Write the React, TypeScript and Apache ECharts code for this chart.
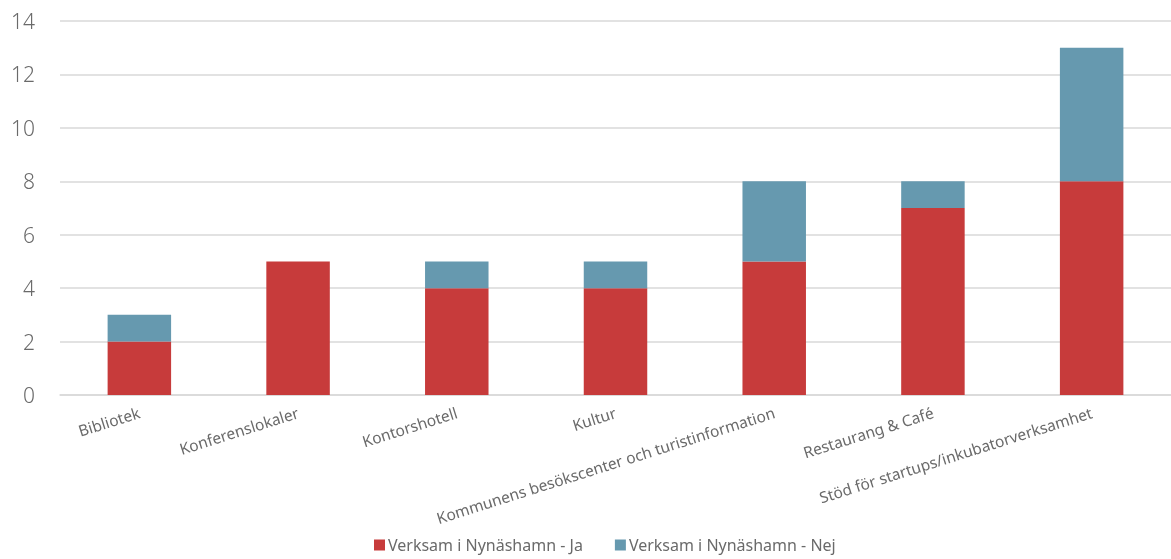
import React, { useEffect, useRef } from "react";
import * as echarts from "echarts";

const categories = [
  "Bibliotek",
  "Konferenslokaler",
  "Kontorshotell",
  "Kultur",
  "Kommunens besökscenter och turistinformation",
  "Restaurang & Café",
  "Stöd för startups/inkubatorverksamhet",
];
const seriesJa = [2, 5, 4, 4, 5, 7, 8];
const seriesNej = [1, 0, 1, 1, 3, 1, 5];
const seriesNames = ["Verksam i Nynäshamn - Ja", "Verksam i Nynäshamn - Nej"];

export default function App() {
  const ref = useRef<HTMLDivElement>(null);
  useEffect(() => {
    if (!ref.current) return;
    const chart = echarts.init(ref.current, undefined, { renderer: "svg" });
    const font = "'Noto Sans', sans-serif";
    const grey = "#6a6a6a";
    chart.setOption({
      animation: false,
      textStyle: { fontFamily: font },
      grid: { left: 60, right: 0, top: 21, bottom: 164, containLabel: false },
      legend: {
        bottom: 1,
        left: 369,
        icon: "rect",
        itemWidth: 11,
        itemHeight: 11,
        itemGap: 32,
        textStyle: { fontSize: 16, color: grey, fontFamily: font, padding: [0, 0, 0, -2] },
        data: seriesNames,
      },
      xAxis: {
        type: "category",
        data: categories,
        axisLine: { lineStyle: { color: "#d9d9d9", width: 1.5 } },
        axisTick: { show: false },
        axisLabel: {
          rotate: 17.5,
          interval: 0,
          fontSize: 15.5,
          color: grey,
          margin: 17,
          fontFamily: font,
        },
      },
      yAxis: {
        type: "value",
        min: 0,
        max: 14,
        interval: 2,
        axisLine: { show: false },
        axisTick: { show: false },
        splitLine: { lineStyle: { color: "#d9d9d9", width: 1.5 } },
        axisLabel: {
          fontSize: 21,
          color: grey,
          margin: 25,
          fontFamily: font,
          fontWeight: 300,
        },
      },
      series: [
        {
          name: seriesNames[0],
          type: "bar",
          stack: "total",
          data: seriesJa,
          barWidth: "40%",
          itemStyle: { color: "#C73B3B" },
        },
        {
          name: seriesNames[1],
          type: "bar",
          stack: "total",
          data: seriesNej,
          barWidth: "40%",
          itemStyle: { color: "#6699AF" },
        },
      ],
    });
    return () => chart.dispose();
  }, []);
  return (
    <div
      ref={ref}
      style={{ position: "fixed", left: 0, top: 0, width: 1171, height: 559 }}
    />
  );
}
